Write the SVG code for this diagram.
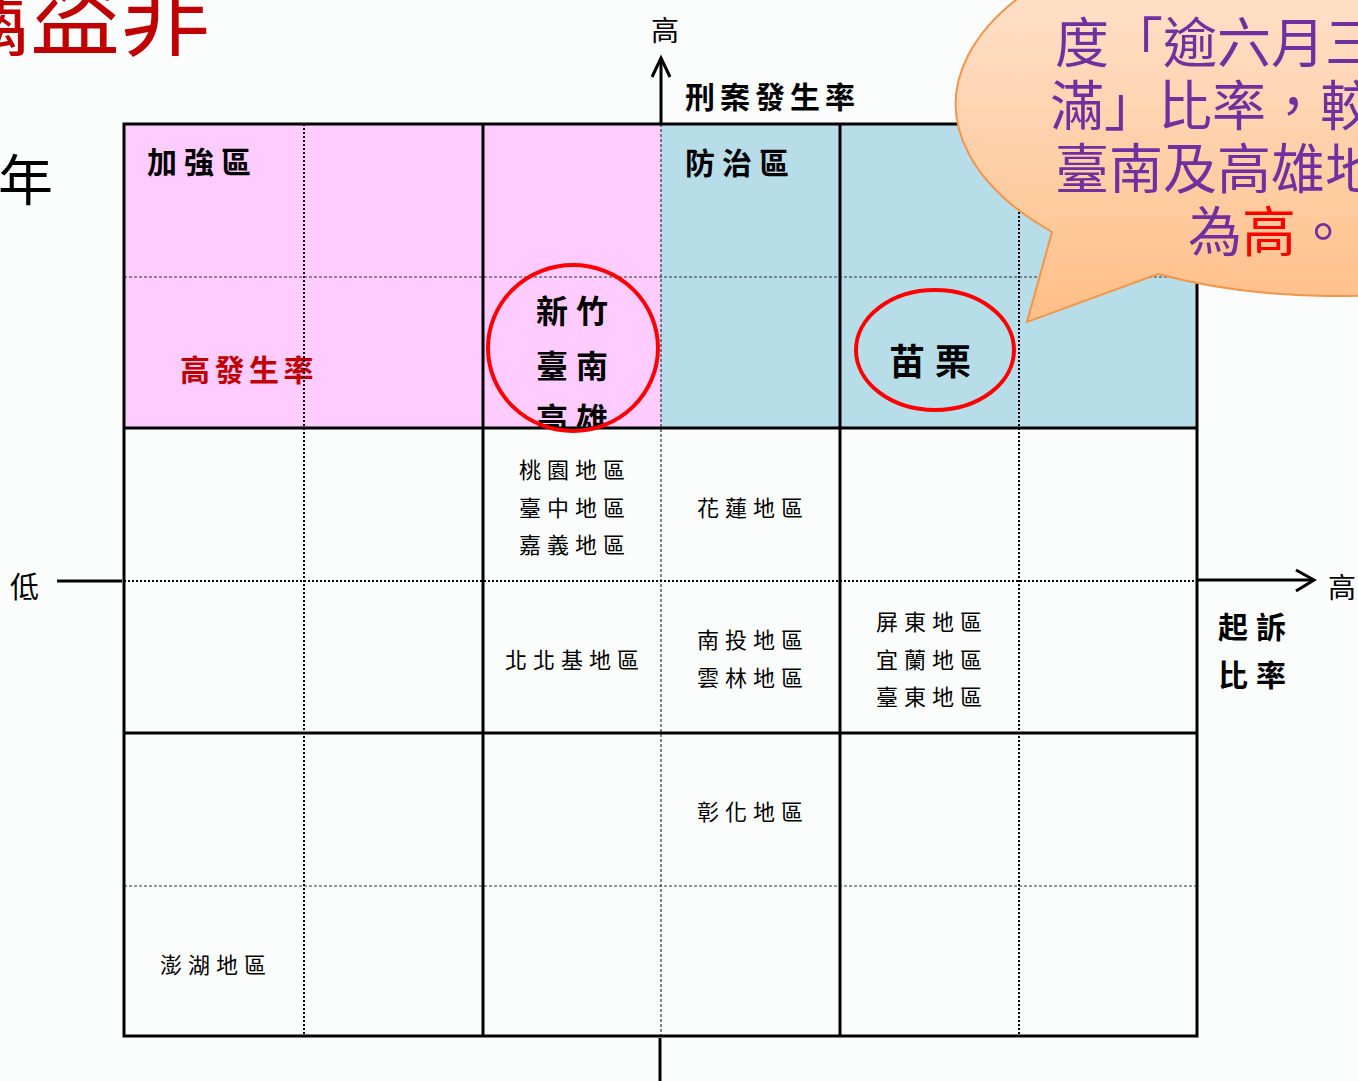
<svg xmlns="http://www.w3.org/2000/svg" width="1358" height="1081" viewBox="0 0 1358 1081">
<style>
text{font-family:"Noto Sans CJK TC","Noto Sans CJK SC",sans-serif;}
.lbl{font-size:30px;font-weight:bold;fill:#000;}
.cell{font-size:22px;letter-spacing:6px;fill:#000;text-anchor:middle;}
.solid{stroke:#000;stroke-width:3;fill:none;}
.dotA{stroke:#000;stroke-width:2;stroke-dasharray:2 2;fill:none;}
.dotB{stroke:#333;stroke-width:1.2;stroke-dasharray:3 2;fill:none;}
.ring{fill:none;stroke:#FF0000;stroke-width:4;}
.axis{stroke:#000;stroke-width:3;fill:none;}
.call{font-size:54px;fill:#7030A0;}
</style>
<defs>
<linearGradient id="bub" x1="0" y1="0" x2="0" y2="1">
<stop offset="0" stop-color="#FEE8D8"/>
<stop offset="1" stop-color="#FFBF87"/>
</linearGradient>
<clipPath id="topClip"><rect x="124" y="124" width="1073" height="303"/></clipPath>
</defs>
<rect x="0" y="0" width="1358" height="1081" fill="#FBFDFD"/>

<g id="title">
<text x="-60" y="48" font-size="90" fill="#C00000">竊盜非</text>
<text x="-2" y="200" font-size="55" fill="#000">年</text>
</g>

<g id="quadrants">
<rect x="124" y="124" width="537" height="304" fill="#FFCCFF"/>
<rect x="661" y="124" width="536" height="304" fill="#B7DDE8"/>
</g>

<g id="labels">
<text class="lbl" x="147" y="173" letter-spacing="7">加強區</text>
<text class="lbl" x="685" y="174" letter-spacing="7">防治區</text>
<text class="lbl" x="685" y="108" letter-spacing="5">刑案發生率</text>
<text class="lbl" x="180" y="381" letter-spacing="4.5" fill="#C00000" style="fill:#C00000">高發生率</text>
</g>

<g id="node-hsinchu" clip-path="url(#topClip)">
<text class="lbl" x="576" y="323" font-size="32" letter-spacing="8" text-anchor="middle" style="font-size:32px">新竹</text>
<text class="lbl" x="576" y="378" font-size="32" letter-spacing="8" text-anchor="middle" style="font-size:32px">臺南</text>
<text class="lbl" x="576" y="431" font-size="32" letter-spacing="8" text-anchor="middle" style="font-size:32px">高雄</text>
</g>

<g id="node-miaoli">
<text class="lbl" x="935" y="375" letter-spacing="10" text-anchor="middle" style="font-size:36px">苗栗</text>
</g>

<g id="cells">
<text class="cell" x="575" y="478">桃園地區</text>
<text class="cell" x="575" y="516">臺中地區</text>
<text class="cell" x="575" y="553">嘉義地區</text>
<text class="cell" x="753" y="516">花蓮地區</text>
<text class="cell" x="575" y="668">北北基地區</text>
<text class="cell" x="753" y="648">南投地區</text>
<text class="cell" x="753" y="686">雲林地區</text>
<text class="cell" x="932" y="630">屏東地區</text>
<text class="cell" x="932" y="668">宜蘭地區</text>
<text class="cell" x="932" y="705">臺東地區</text>
<text class="cell" x="753" y="820">彰化地區</text>
<text class="cell" x="216" y="973">澎湖地區</text>
</g>

<g id="grid">
<line class="dotA" x1="304" y1="124" x2="304" y2="1036"/>
<line class="dotB" x1="661" y1="124" x2="661" y2="1036"/>
<line class="dotA" x1="1019" y1="124" x2="1019" y2="1036"/>
<line class="dotB" x1="124" y1="277" x2="1197" y2="277"/>
<line class="dotA" x1="124" y1="581" x2="1197" y2="581"/>
<line class="dotB" x1="124" y1="886" x2="1197" y2="886"/>
<line class="solid" x1="483" y1="124" x2="483" y2="1036"/>
<line class="solid" x1="840" y1="124" x2="840" y2="1036"/>
<line class="solid" x1="124" y1="428" x2="1197" y2="428"/>
<line class="solid" x1="124" y1="733" x2="1197" y2="733"/>
<rect class="solid" x="124" y="124" width="1073" height="912"/>
</g>

<g id="connectors">
<line class="axis" x1="661" y1="124" x2="661" y2="58"/>
<polyline class="axis" points="652,77 661,58 670,77"/>
<line class="axis" x1="660" y1="1038" x2="660" y2="1081"/>
<line class="axis" x1="57" y1="581" x2="122" y2="581"/>
<line class="axis" x1="1197" y1="580" x2="1313" y2="580"/>
<polyline class="axis" points="1296,570 1314,580 1296,591"/>
</g>

<g id="axis-labels">
<text x="651" y="41" font-size="28" fill="#000">高</text>
<text x="10" y="598" font-size="29" fill="#000">低</text>
<text x="1328" y="598" font-size="28" fill="#000">高</text>
<text class="lbl" x="1218" y="638" letter-spacing="8">起訴</text>
<text class="lbl" x="1218" y="686" letter-spacing="8">比率</text>
</g>

<g id="rings">
<ellipse class="ring" cx="573" cy="348" rx="85" ry="83"/>
<ellipse class="ring" cx="935" cy="350" rx="79" ry="60"/>
</g>

<g id="callout">
<path d="M1052,232 L1027,322 L1158,274 A378,192 0 1 0 1052,232 Z" fill="url(#bub)" stroke="#F3954A" stroke-width="2"/>
<text class="call" x="1055" y="63">度「逾六月三</text>
<text class="call" x="1050" y="126">滿」比率，較</text>
<text class="call" x="1055" y="189">臺南及高雄地</text>
<text class="call" x="1188" y="252">為<tspan fill="#FF0000">高</tspan>。</text>
</g>
</svg>
